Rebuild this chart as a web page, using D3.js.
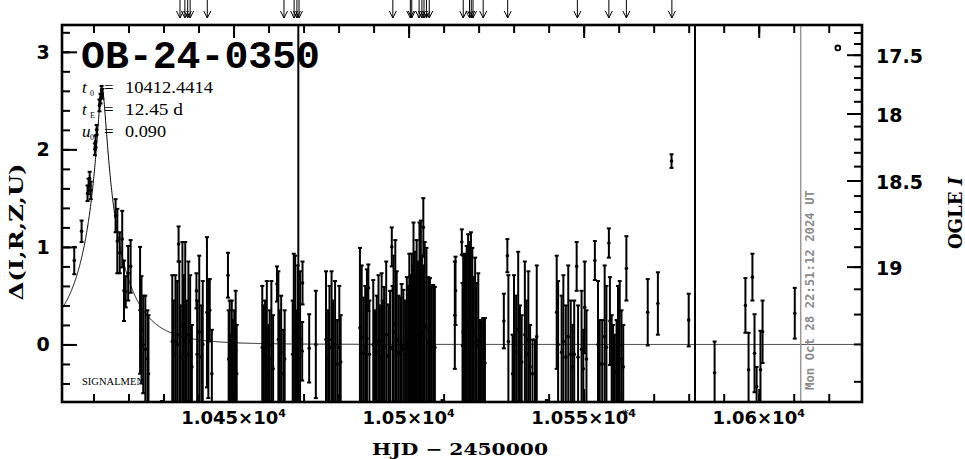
<!DOCTYPE html>
<html><head><meta charset="utf-8">
<script src="https://cdn.jsdelivr.net/npm/d3@7"></script>
<style>body{margin:0;background:#fff}svg{display:block}</style>
</head><body><svg id="c" width="965" height="459"></svg>
<script>
// ---------------- data ----------------
const eventName = "OB-24-0350";
const t0 = 10412.4414, tE = 12.45, u0 = 0.090;
const baseMag = 19.30, sourceFrac = 0.296;
const xMajorTicks = [10450, 10500, 10550, 10600];
const xMajorLabels = ["1.045", "1.05", "1.055", "1.06"];
const yMajorTicks = [0, 1, 2, 3];
const magMajorTicks = [17.5, 18, 18.5, 19];
const magMajorLabels = ["17.5", "18", "18.5", "19"];
const arrowTimes = [10434.7, 10436.1, 10436.9, 10437.6, 10442.5, 10464.4, 10467.3, 10468.1, 10468.7,
  10495.5, 10500.5, 10500.9, 10503.0, 10503.8, 10504.4, 10505.1, 10505.9, 10515.6, 10517.4,
  10517.9, 10518.4, 10521.3, 10528.3, 10548.2, 10557.2, 10562.2, 10575.2];
const seasonLines = [10468.5, 10581.8];
const nowHJD = 10612.0;
const dateText = "Mon Oct 28 22:51:12 2024 UT";
const ringMarker = [10622.6, 3.04];

const hjd = [
  10404.5, 10406.6, 10408.3, 10408.6, 10408.9, 10409.2, 10410.4, 10410.6, 10410.9, 10411.7, 10412.0, 10412.3, 10412.5,
  10416.3, 10416.8, 10417.5, 10418.2, 10418.7, 10419.2, 10419.9, 10420.6,
  10423.3, 10423.7, 10424.2, 10424.8, 10425.4, 10425.7,
  10432.5, 10432.9, 10433.4, 10433.9, 10434.3, 10434.5, 10434.9, 10435.4, 10435.8, 10436.2, 10436.6, 10437.1, 10437.6, 10438.1,
  10439.4, 10439.6, 10440.2, 10440.8, 10441.2,
  10442.4, 10442.8, 10443.2, 10443.8, 10429.6,
  10448.4, 10448.6, 10448.9, 10449.2, 10449.5, 10449.8, 10450.2, 10450.6, 10450.9,
  10458.2, 10458.6, 10459.0, 10459.5, 10459.9, 10460.3, 10460.8, 10461.3, 10462.4, 10462.8, 10463.2, 10463.6, 10464.2, 10464.6,
  10466.9, 10467.2, 10467.6, 10468.0, 10468.3, 10469.0, 10469.7,
  10469.6, 10471.6, 10473.5,
  10476.4, 10477.0, 10477.4, 10478.0, 10478.4, 10479.0, 10479.6, 10480.2, 10480.6,
  10486.1, 10486.6, 10487.1, 10487.6, 10488.1, 10488.5, 10488.8,
  10489.9, 10490.4, 10490.9, 10491.4, 10491.8, 10492.3, 10492.6, 10493.0, 10493.6, 10494.2, 10494.7, 10495.2, 10495.4, 10495.7, 10496.2,
  10496.6, 10497.1, 10497.6, 10498.0, 10498.5, 10499.0, 10499.5, 10499.9, 10500.2, 10500.6, 10500.9, 10501.2, 10501.4, 10501.8, 10502.1,
  10502.3, 10502.7, 10503.1, 10503.5, 10503.8, 10504.2, 10504.2, 10504.6, 10505.1, 10505.6, 10506.1, 10506.5, 10507.0, 10507.5, 10509.7,
  10513.2, 10513.4,
  10515.2, 10515.4, 10515.6, 10516.1, 10516.6, 10517.0, 10517.5, 10517.8, 10518.2, 10518.4, 10518.5, 10519.0, 10519.4, 10519.9, 10520.4, 10520.9, 10521.3, 10521.8,
  10527.2, 10528.2, 10528.5, 10529.7, 10530.1, 10530.7, 10531.3, 10531.8, 10532.3, 10533.2, 10533.7, 10534.2, 10534.7, 10535.4, 10536.1, 10536.6, 10539.5,
  10542.3, 10542.7, 10543.7, 10544.2, 10544.9, 10545.6, 10546.3, 10546.8, 10547.3, 10548.0, 10548.4, 10549.4, 10549.9, 10550.3, 10550.8,
  10553.2, 10554.1, 10554.6, 10555.3, 10556.0, 10556.5, 10557.2, 10557.5, 10558.0, 10558.4, 10558.9, 10559.4, 10559.8, 10560.3, 10560.8, 10561.3, 10562.2,
  10568.3, 10571.2, 10575.1, 10580.0, 10587.4, 10596.2, 10597.1, 10598.2, 10598.8, 10599.4, 10600.5, 10601.1, 10610.3
];
const delta = [
  0.86, 1.16, 1.55, 1.62, 1.70, 1.58, 2.00, 2.08, 2.20, 2.45, 2.52, 2.60, 2.57,
  1.32, 1.06, 0.94, 1.08, 0.55, 0.54, 0.73, 0.80,
  0.35, 0.15, 0.00, -0.05, -0.15, -0.30,
  0.03, -0.10, 0.03, 0.00, 1.03, 0.10, -0.13, 0.20, 0.03, 0.20, -0.10, 0.10, 0.03, -0.23,
  0.55, -0.10, 0.13, -0.13, 0.00,
  0.33, 0.05, 0.35, -0.30, -0.78,
  0.71, -0.15, -0.10, -0.35, -0.10, -0.20, -0.15, -0.05, -0.30,
  -0.03, -0.13, -0.10, 0.00, -0.30, -0.15, 0.00, -0.25, 0.62, 0.05, -0.15, -0.08, -0.30, -0.15,
  -0.10, 0.14, 0.13, -0.15, 0.08, 0.05, 0.63,
  -0.07, -0.04, 0.00,
  0.05, -0.15, -0.03, 0.05, -0.10, 0.00, -0.20, -0.03, -0.18,
  0.17, 0.08, -0.09, -0.03, 0.06, 0.58, -0.10,
  0.00, -0.15, -0.08, 0.03, -0.13, 0.04, -0.10, -0.03, 0.10, -0.12, -0.05, 1.00, -0.03, 0.13, 0.21,
  0.05, -0.08, -0.09, -0.02, -0.05, -0.10, 0.02, -0.03, 0.14, 0.03, 0.14, 0.08, 0.30, 0.15, 0.03,
  0.21, 0.10, 0.30, 0.31, 0.13, 1.20, 0.08, 0.20, 0.17, 0.02, 0.02, -0.03, -0.02, -0.03, -0.75,
  0.30, 0.55,
  1.05, -0.01, 0.13, 0.14, 0.18, 0.24, 0.20, 0.25, 0.17, 0.55, 0.02, 0.12, -0.01, 0.04, -0.20, -0.21, -0.19, -0.19,
  0.24, 0.91, 0.03, -0.30, 0.03, -0.08, 0.15, -0.13, -0.18, 0.10, -0.10, 0.05, -0.23, -0.30, -0.30, 0.08, -0.75,
  0.33, 0.00, -0.08, 0.03, -0.13, 0.08, -0.10, -0.23, -0.10, 0.80, -0.13, -0.05, -0.25, 0.38, -0.15,
  0.86, 0.00, -0.20, -0.20, 0.08, -0.03, 1.04, 0.24, -0.18, -0.23, -0.28, -0.20, -0.03, 0.00, -0.15, -0.23, 0.78,
  0.33, 0.42, 1.88, 0.25, -0.29, 0.40, -0.26, 0.69, -0.09, -0.43, -0.26, 0.13, 0.32
];
const err = [
  0.14, 0.11, 0.08, 0.08, 0.07, 0.09, 0.06, 0.06, 0.05, 0.06, 0.05, 0.05, 0.05,
  0.17, 0.33, 0.21, 0.29, 0.31, 0.16, 0.28, 0.27,
  0.65, 0.55, 0.50, 0.55, 0.50, 0.60,
  0.68, 0.55, 0.68, 0.65, 0.18, 0.75, 0.53, 0.85, 0.68, 0.85, 0.55, 0.75, 0.68, 0.43,
  0.18, 0.55, 0.78, 0.53, 0.65,
  0.77, 0.60, 0.32, 0.45, 0.20,
  0.23, 0.50, 0.55, 0.45, 0.55, 0.45, 0.50, 0.60, 0.50,
  0.63, 0.53, 0.55, 0.65, 0.50, 0.50, 0.65, 0.55, 0.18, 0.70, 0.50, 0.58, 0.45, 0.50,
  0.55, 0.79, 0.78, 0.50, 0.73, 0.70, 0.22,
  0.30, 0.35, 0.55,
  0.70, 0.50, 0.63, 0.70, 0.55, 0.65, 0.45, 0.63, 0.48,
  0.82, 0.73, 0.57, 0.63, 0.71, 0.24, 0.55,
  0.66, 0.50, 0.58, 0.68, 0.53, 0.69, 0.55, 0.62, 0.75, 0.53, 0.60, 0.20, 0.63, 0.78, 0.86,
  0.70, 0.58, 0.57, 0.64, 0.61, 0.55, 0.67, 0.63, 0.79, 0.68, 0.79, 0.73, 0.95, 0.80, 0.68,
  0.86, 0.75, 0.95, 0.96, 0.78, 0.30, 0.73, 0.85, 0.82, 0.67, 0.66, 0.62, 0.63, 0.62, 0.18,
  0.55, 0.35,
  0.13, 0.64, 0.78, 0.79, 0.83, 0.89, 0.85, 0.90, 0.82, 0.12, 0.67, 0.77, 0.64, 0.69, 0.45, 0.44, 0.46, 0.46,
  0.28, 0.17, 0.68, 0.40, 0.68, 0.58, 0.80, 0.53, 0.48, 0.75, 0.55, 0.70, 0.43, 0.35, 0.35, 0.73, 0.18,
  0.58, 0.65, 0.58, 0.68, 0.53, 0.73, 0.55, 0.43, 0.55, 0.25, 0.53, 0.60, 0.40, 0.47, 0.50,
  0.20, 0.65, 0.45, 0.45, 0.73, 0.63, 0.15, 0.45, 0.48, 0.43, 0.38, 0.45, 0.63, 0.65, 0.50, 0.43, 0.33,
  0.34, 0.32, 0.07, 0.27, 0.32, 0.28, 0.38, 0.24, 0.40, 0.20, 0.40, 0.32, 0.26
];

// ---------------- chart ----------------
const M = {left: 62, right: 862, top: 25, bottom: 402};
const x = d3.scaleLinear().domain([10401.0, 10629.5]).range([M.left, M.right]);
const y = d3.scaleLinear().domain([-0.59, 3.275]).range([M.bottom, M.top]);
const svg = d3.select('#c');

svg.append('defs').append('clipPath').attr('id', 'plotclip')
  .append('rect').attr('x', M.left).attr('y', M.top)
  .attr('width', M.right - M.left).attr('height', M.bottom - M.top);
const plot = svg.append('g').attr('clip-path', 'url(#plotclip)');

function magnification(t) {
  const tau = (t - t0) / tE;
  const u = Math.sqrt(tau * tau + u0 * u0);
  return (u * u + 2) / (u * Math.sqrt(u * u + 4));
}
function magToDelta(m) {
  const ratio = Math.pow(10, -0.4 * (m - baseMag));
  const A = 1 + (ratio - 1) / sourceFrac;
  return 2.5 * Math.log10(A);
}

// season / date lines
seasonLines.forEach(t => {
  svg.append('line').attr('x1', x(t)).attr('x2', x(t)).attr('y1', M.top).attr('y2', M.bottom)
    .attr('stroke', '#000').attr('stroke-width', 2);
});
svg.append('line').attr('x1', x(nowHJD)).attr('x2', x(nowHJD)).attr('y1', M.top).attr('y2', M.bottom)
  .attr('stroke', '#999').attr('stroke-width', 1.5);

// model curve
const curveT = d3.range(x.domain()[0], x.domain()[1], 0.05);
plot.append('path').datum(curveT)
  .attr('d', d3.line().x(t => x(t)).y(t => y(2.5 * Math.log10(magnification(t)))))
  .attr('fill', 'none').attr('stroke', '#000').attr('stroke-width', 1);

// data error bars
const pts = hjd.map((t, i) => ({t, d: delta[i], e: err[i]}));
const eb = plot.append('g').attr('stroke', '#000').attr('stroke-width', 2);
pts.forEach(p => {
  const cx = x(p.t), y1 = y(p.d - p.e), y2 = y(p.d + p.e);
  eb.append('line').attr('x1', cx).attr('x2', cx).attr('y1', y1).attr('y2', y2);
  eb.append('line').attr('x1', cx - 2).attr('x2', cx + 2).attr('y1', y1).attr('y2', y1);
  eb.append('line').attr('x1', cx - 2).attr('x2', cx + 2).attr('y1', y2).attr('y2', y2);
  plot.append('circle').attr('cx', cx).attr('cy', y(p.d)).attr('r', 1.8).attr('fill', '#000');
});
plot.append('circle').attr('cx', x(ringMarker[0])).attr('cy', y(ringMarker[1])).attr('r', 2.4)
  .attr('fill', 'none').attr('stroke', '#000').attr('stroke-width', 1.8);

// axes (ticks drawn inward)
function styleAxis(g) {
  g.select('.domain').remove();
  g.selectAll('.tick line').attr('stroke', '#000').attr('stroke-width', 2);
  g.selectAll('.tick text').remove();
}
const xMinor = d3.range(10410, 10630, 10);
svg.append('g').attr('transform', `translate(0,${M.top})`)
  .call(d3.axisTop(x).tickValues(xMinor).tickSizeInner(-8).tickSizeOuter(0)).call(styleAxis);
svg.append('g').attr('transform', `translate(0,${M.top})`)
  .call(d3.axisTop(x).tickValues(xMajorTicks).tickSizeInner(-13).tickSizeOuter(0)).call(styleAxis);
svg.append('g').attr('transform', `translate(0,${M.bottom})`)
  .call(d3.axisBottom(x).tickValues(xMinor).tickSizeInner(-8).tickSizeOuter(0)).call(styleAxis);
svg.append('g').attr('transform', `translate(0,${M.bottom})`)
  .call(d3.axisBottom(x).tickValues(xMajorTicks).tickSizeInner(-13).tickSizeOuter(0)).call(styleAxis);
const yMinor = d3.range(-2, 17).map(v => v / 5);
svg.append('g').attr('transform', `translate(${M.left},0)`)
  .call(d3.axisLeft(y).tickValues(yMinor).tickSizeInner(-8).tickSizeOuter(0)).call(styleAxis);
svg.append('g').attr('transform', `translate(${M.left},0)`)
  .call(d3.axisLeft(y).tickValues(yMajorTicks).tickSizeInner(-15).tickSizeOuter(0)).call(styleAxis);

// right magnitude axis
const magMinor = d3.range(173, 195).map(v => v / 10);
const ra = svg.append('g').attr('stroke', '#000').attr('stroke-width', 2);
magMinor.forEach(m => {
  const yy = y(magToDelta(m));
  ra.append('line').attr('x1', M.right).attr('x2', M.right - 8).attr('y1', yy).attr('y2', yy);
});
magMajorTicks.forEach((m, i) => {
  const yy = y(magToDelta(m));
  ra.append('line').attr('x1', M.right).attr('x2', M.right - 15).attr('y1', yy).attr('y2', yy);
  svg.append('text').attr('x', 876).attr('y', yy + 7.5).text(magMajorLabels[i])
    .attr('font-family', 'DejaVu Sans').attr('font-weight', 'bold').attr('font-size', 19);
});

// frame
svg.append('rect').attr('x', M.left).attr('y', M.top).attr('width', M.right - M.left)
  .attr('height', M.bottom - M.top).attr('fill', 'none').attr('stroke', '#000').attr('stroke-width', 2.6);

// left tick labels
yMajorTicks.forEach(v => {
  svg.append('text').attr('x', 43).attr('y', y(v) + 7).attr('text-anchor', 'middle').text(String(v))
    .attr('font-family', 'DejaVu Sans').attr('font-weight', 'bold').attr('font-size', 19);
});
// bottom tick labels
xMajorTicks.forEach((v, i) => {
  const t = svg.append('text').attr('x', x(v)).attr('y', 424).attr('text-anchor', 'middle')
    .attr('font-family', 'DejaVu Sans').attr('font-weight', 'bold').attr('font-size', 18);
  t.append('tspan').text(xMajorLabels[i] + '\u00d710');
  t.append('tspan').attr('dy', -7).attr('font-size', 11).text('4');
});
svg.append('text').attr('x', 625.5).attr('y', 418).attr('text-anchor', 'middle').text('*')
  .attr('font-family', 'DejaVu Sans').attr('font-size', 13);

// axis titles
svg.append('text').attr('x', 460).attr('y', 455).attr('text-anchor', 'middle')
  .attr('font-family', 'DejaVu Serif').attr('font-weight', 'bold').attr('font-size', 16)
  .attr('textLength', 176).attr('lengthAdjust', 'spacingAndGlyphs').text('HJD \u2212 2450000');
svg.append('text').attr('transform', 'translate(23,232) rotate(-90)').attr('text-anchor', 'middle')
  .attr('font-family', 'DejaVu Serif').attr('font-weight', 'bold').attr('font-size', 18)
  .attr('textLength', 137).attr('lengthAdjust', 'spacingAndGlyphs').text('\u0394(I,R,Z,U)');
const og = svg.append('text').attr('transform', 'translate(962,213) rotate(-90)').attr('text-anchor', 'middle')
  .attr('font-family', 'DejaVu Serif').attr('font-weight', 'bold').attr('font-size', 18);
og.append('tspan').text('OGLE ');
og.append('tspan').attr('font-style', 'italic').text('I');

// title and fit parameters
svg.append('text').attr('x', 81).attr('y', 68).text(eventName)
  .attr('font-family', 'Liberation Mono').attr('font-weight', 'bold').attr('font-size', 39)
  .attr('textLength', 239).attr('lengthAdjust', 'spacingAndGlyphs');
const fitRows = [
  {sym: 't', sub: '0', val: t0.toFixed(4), len: 88, yy: 93},
  {sym: 't', sub: 'E', val: tE.toFixed(2) + ' d', len: 58, yy: 115},
  {sym: 'u', sub: '0', val: u0.toFixed(3), len: 41, yy: 137}
];
fitRows.forEach(r => {
  const fam = 'Liberation Serif', size = 17;
  svg.append('text').attr('x', 82).attr('y', r.yy).text(r.sym).attr('font-style', 'italic')
    .attr('font-family', fam).attr('font-size', size);
  svg.append('text').attr('x', 90).attr('y', r.yy + 3).text(r.sub)
    .attr('font-family', fam).attr('font-size', 8);
  svg.append('text').attr('x', 104).attr('y', r.yy).text('=')
    .attr('font-family', fam).attr('font-size', size);
  svg.append('text').attr('x', 125).attr('y', r.yy).text(r.val)
    .attr('font-family', fam).attr('font-size', size)
    .attr('textLength', r.len).attr('lengthAdjust', 'spacingAndGlyphs');
});
svg.append('text').attr('x', 82).attr('y', 385).text('SIGNALMEN')
  .attr('font-family', 'Liberation Serif').attr('font-size', 11)
  .attr('textLength', 62).attr('lengthAdjust', 'spacingAndGlyphs');

// date stamp
svg.append('text').attr('transform', `translate(${x(nowHJD) + 13},390) rotate(-90)`)
  .attr('font-family', 'DejaVu Sans Mono').attr('font-weight', 'bold').attr('font-size', 12)
  .attr('fill', '#8c8c8c').attr('textLength', 200).attr('lengthAdjust', 'spacingAndGlyphs').text(dateText);

// arrows at top
const ar = svg.append('g').attr('stroke', '#000').attr('stroke-width', 1).attr('fill', 'none');
arrowTimes.forEach(t => {
  const ax = x(t);
  ar.append('line').attr('x1', ax).attr('x2', ax).attr('y1', 0).attr('y2', 18);
  ar.append('path').attr('d', `M${ax - 3.5},11 L${ax},18 L${ax + 3.5},11`);
});
</script>
</body></html>
